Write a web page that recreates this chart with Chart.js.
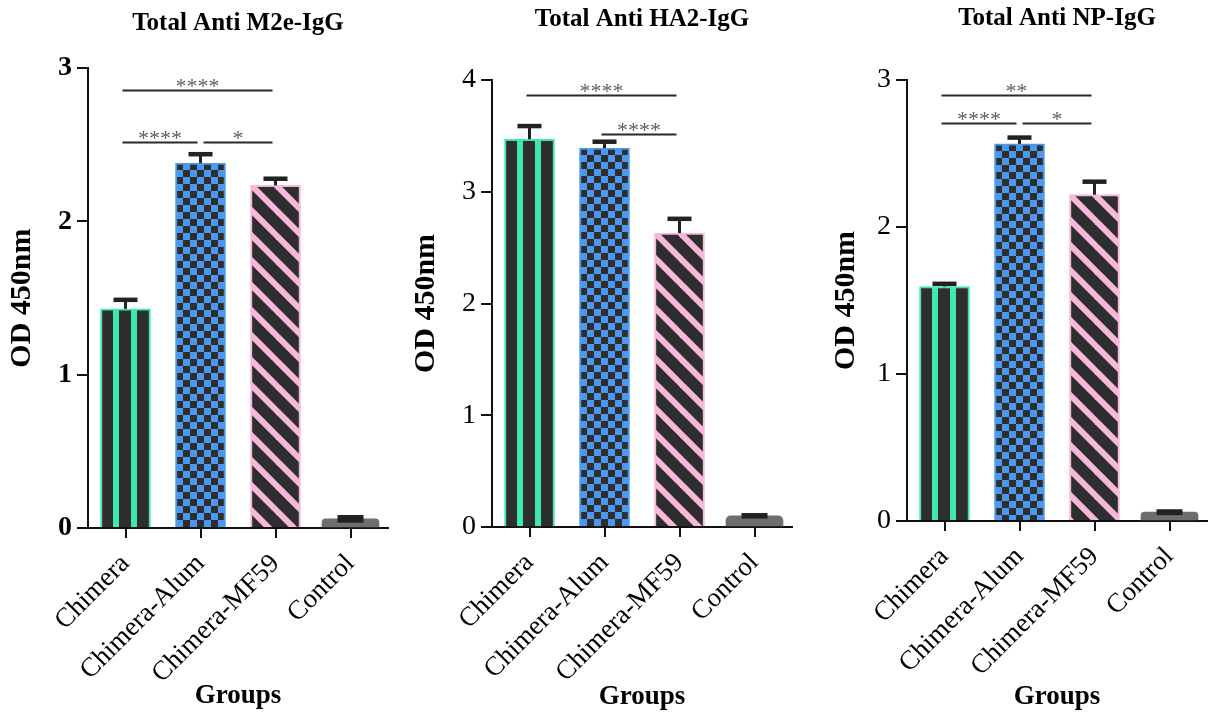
<!DOCTYPE html>
<html><head><meta charset="utf-8">
<script src="https://cdn.jsdelivr.net/npm/chart.js@4.4.1/dist/chart.umd.min.js"></script>
<style>
html,body{margin:0;padding:0;background:#fff;}
body{width:1212px;height:715px;position:relative;overflow:hidden;}
.panel{position:absolute;top:0;height:715px;}
</style></head><body>
<div class="panel" style="left:0;width:400px"><canvas id="c1"></canvas></div>
<div class="panel" style="left:400px;width:400px"><canvas id="c2"></canvas></div>
<div class="panel" style="left:800px;width:412px"><canvas id="c3"></canvas></div>
<script>
// ---------------- data ----------------
const categories = ['Chimera', 'Chimera-Alum', 'Chimera-MF59', 'Control'];
const yTicks3 = [0, 1, 2, 3];
const yTicks4 = [0, 1, 2, 3, 4];

const m2eMeans  = [1.43, 2.38, 2.235, 0.06];
const m2eErrors = [0.06, 0.06, 0.045, 0.025];
const m2eSig = [
  {from: 0, to: 2, y: 2.855, label: '****'},
  {from: 0, to: 1, y: 2.515, label: '****'},
  {from: 1, to: 2, y: 2.515, label: '*'}
];

const ha2Means  = [3.47, 3.39, 2.63, 0.10];
const ha2Errors = [0.12, 0.06, 0.13, 0.025];
const ha2Sig = [
  {from: 0, to: 2, y: 3.87, label: '****'},
  {from: 1, to: 2, y: 3.515, label: '****'}
];

const npMeans  = [1.595, 2.565, 2.22, 0.06];
const npErrors = [0.02, 0.045, 0.09, 0.02];
const npSig = [
  {from: 0, to: 2, y: 2.90, label: '**'},
  {from: 0, to: 1, y: 2.705, label: '****'},
  {from: 1, to: 2, y: 2.705, label: '*'}
];

// ---------------- styling helpers ----------------
const SERIF = "'Liberation Serif', 'Times New Roman', serif";
Chart.defaults.font.family = SERIF;
Chart.defaults.color = '#000';
const DARK = '#2e2e2e', GREEN = '#3fe9a9', BLUE = '#4a98f0', PINK = '#f7b8da', GREY = '#6e6e6e';

function tile(w, h, draw) {
  const c = document.createElement('canvas'); c.width = w; c.height = h;
  const g = c.getContext('2d'); draw(g, w, h);
  return document.createElement('canvas').getContext('2d').createPattern(c, 'repeat');
}
function stripePattern() {
  return tile(18, 4, (g) => { g.fillStyle = DARK; g.fillRect(0, 0, 18, 4); g.fillStyle = GREEN; g.fillRect(12, 0, 6, 4); });
}
function checkPattern() {
  return tile(14, 14, (g) => {
    g.fillStyle = BLUE; g.fillRect(0, 0, 14, 14);
    g.fillStyle = DARK; g.fillRect(0, 0, 7, 7); g.fillRect(7, 7, 7, 7);
  });
}
function diagPattern() {
  return tile(25, 25, (g, T) => {
    g.fillStyle = DARK; g.fillRect(0, 0, T, T);
    g.strokeStyle = PINK; g.lineWidth = 6;
    for (let k = -1; k <= 1; k++) {
      g.beginPath(); g.moveTo(k * T - 2, -2); g.lineTo(k * T + T + 2, T + 2); g.stroke();
    }
  });
}

const patternAnchor = {
  id: 'patternAnchor',
  beforeDatasetsDraw(chart) {
    const ds = chart.data.datasets[0];
    chart.getDatasetMeta(0).data.forEach((bar, i) => {
      const bg = ds.backgroundColor[i];
      if (bg && typeof bg.setTransform === 'function') {
        bg.setTransform(new DOMMatrix([1, 0, 0, 1, Math.round(bar.x - bar.width / 2), Math.round(bar.y)]));
      }
    });
  }
};

function errorBarsPlugin(means, errors) {
  return {
    id: 'errorBars',
    afterDatasetsDraw(chart) {
      const {ctx, scales: {x, y}} = chart;
      ctx.save();
      ctx.fillStyle = '#222';
      means.forEach((m, i) => {
        const cx = x.getPixelForValue(i);
        const top = y.getPixelForValue(m + errors[i]);
        const base = y.getPixelForValue(m);
        if (i === categories.length - 1) {
          const low = y.getPixelForValue(m - errors[i]);
          ctx.fillRect(cx - 13, top, 26, low - top);
        } else {
          ctx.fillRect(cx - 1.5, top, 3, base - top);
          ctx.fillRect(cx - 12, top - 2, 24, 4.5);
        }
      });
      ctx.restore();
    }
  };
}

function sigPlugin(items) {
  return {
    id: 'sig',
    afterDatasetsDraw(chart) {
      const {ctx, scales: {x, y}} = chart;
      ctx.save();
      items.forEach(b => {
        const sharedStart = items.some(o => o !== b && o.y === b.y && o.to === b.from);
        const x1 = x.getPixelForValue(b.from) + (sharedStart ? 3 : -3);
        const x2 = x.getPixelForValue(b.to) - 3;
        const py = Math.round(y.getPixelForValue(b.y)) + 0.5;
        ctx.strokeStyle = '#2a2a2a'; ctx.lineWidth = 2;
        ctx.beginPath(); ctx.moveTo(x1, py); ctx.lineTo(x2, py); ctx.stroke();
        ctx.fillStyle = '#5e5e5e';
        ctx.font = '22px ' + SERIF;
        ctx.textAlign = 'center'; ctx.textBaseline = 'alphabetic';
        ctx.fillText(b.label, (x1 + x2) / 2, py + 2);
      });
      ctx.restore();
    }
  };
}

function makeChart(id, title, means, errors, sig, ticks, L) {
  const n = categories.length;
  const mainData = means.map((v, i) => (i < n - 1 ? v : null));
  const ctrlData = means.map((v, i) => (i === n - 1 ? v : null));
  return new Chart(document.getElementById(id), {
    type: 'bar',
    data: {
      labels: categories,
      datasets: [
        {
          data: mainData,
          backgroundColor: [stripePattern(), checkPattern(), diagPattern(), GREY],
          borderColor: [GREEN, BLUE, PINK, GREY],
          borderWidth: 2,
          borderSkipped: 'bottom',
          barThickness: 50,
          grouped: false
        },
        {
          data: ctrlData,
          backgroundColor: GREY,
          borderColor: GREY,
          borderWidth: 0,
          borderRadius: {topLeft: 6, topRight: 6, bottomLeft: 0, bottomRight: 0},
          borderSkipped: 'bottom',
          barThickness: 57,
          grouped: false
        }
      ]
    },
    options: {
      responsive: true,
      maintainAspectRatio: false,
      animation: false,
      events: [],
      layout: {padding: {left: 0, right: L.padRight, top: 0, bottom: 0}},
      plugins: {
        legend: {display: false},
        tooltip: {enabled: false},
        title: {
          display: true, text: title, color: '#000', fullSize: false,
          font: {size: 25, weight: 'bold', family: SERIF, lineHeight: 1.2},
          padding: {top: L.titleTop, bottom: L.titleBottom}
        }
      },
      scales: {
        x: {
          type: 'category',
          offset: true,
          grid: {offset: false, drawOnChartArea: false, color: '#111', lineWidth: 2, tickLength: 10},
          border: {color: '#111', width: 2},
          ticks: {
            autoSkip: false, maxRotation: 45, minRotation: 45, padding: 10,
            color: '#000', font: {size: 27, family: SERIF}
          },
          title: {
            display: true, text: 'Groups', color: '#000',
            font: {size: 27, weight: 'bold', family: SERIF, lineHeight: 1.2},
            padding: {top: 0, bottom: L.xTitleBottom}
          },
          afterFit(s) { s.height = L.xHeight; }
        },
        y: {
          min: ticks[0], max: ticks[ticks.length - 1],
          afterBuildTicks(s) { s.ticks = ticks.map(v => ({value: v})); },
          grid: {drawOnChartArea: false, color: '#111', lineWidth: 2, tickLength: 11},
          border: {color: '#111', width: 2},
          ticks: {
            padding: 5, color: '#000',
            font: {size: 28, family: SERIF, weight: L.boldTicks ? 'bold' : 'normal'}
          },
          title: {
            display: true, text: 'OD 450nm', color: '#000',
            font: {size: 30, weight: 'bold', family: SERIF, lineHeight: 1.2},
            padding: {top: L.yTitlePad, bottom: 0}
          },
          afterFit(s) { s.width = L.yWidth; }
        }
      }
    },
    plugins: [patternAnchor, errorBarsPlugin(means, errors), sigPlugin(sig)]
  });
}

makeChart('c1', 'Total Anti M2e-IgG', m2eMeans, m2eErrors, m2eSig, yTicks3,
  {padRight: 12, titleTop: 8.1, titleBottom: 30, xHeight: 187, xTitleBottom: 3, yTitlePad: 4, yWidth: 88, boldTicks: true});
makeChart('c2', 'Total Anti HA2-IgG', ha2Means, ha2Errors, ha2Sig, yTicks4,
  {padRight: 8, titleTop: 5, titleBottom: 45, xHeight: 188, xTitleBottom: 2, yTitlePad: 8, yWidth: 92, boldTicks: false});
makeChart('c3', 'Total Anti NP-IgG', npMeans, npErrors, npSig, yTicks3,
  {padRight: 5, titleTop: 4, titleBottom: 46, xHeight: 194, xTitleBottom: 2, yTitlePad: 28, yWidth: 107, boldTicks: false});
</script>
</body></html>
